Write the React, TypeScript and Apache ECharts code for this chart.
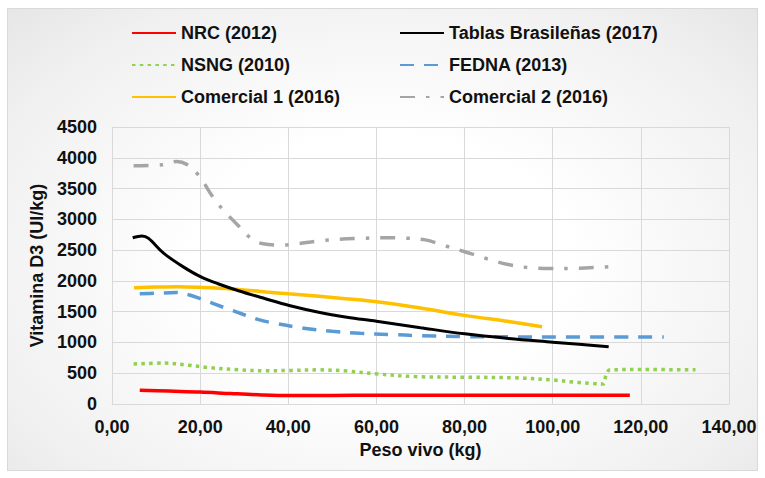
import React, { useEffect, useRef } from "react";
import * as echarts from "echarts";

const seriesNames = [
  "NRC (2012)",
  "Tablas Brasileñas (2017)",
  "NSNG (2010)",
  "FEDNA (2013)",
  "Comercial 1 (2016)",
  "Comercial 2 (2016)",
];

const nrc: number[][] = [
  [6.3, 225], [13, 210], [20, 195], [27, 170], [34, 148], [40, 138], [50, 140],
  [60, 142], [80, 142], [100, 142], [117.5, 142],
];

const tablasBrasilenas: number[][] = [
  [4.7, 2700], [6.8, 2730], [8.3, 2690], [11.7, 2450], [15.9, 2240], [20.3, 2060],
  [24.2, 1950], [28.7, 1840], [34.8, 1710], [40.2, 1600], [46.9, 1490], [53.3, 1410],
  [60, 1345], [70, 1240], [80, 1140], [90, 1065], [100, 1005], [106, 970], [112.7, 930],
];

const nsng: number[][] = [
  [4.9, 650], [12, 665], [17.4, 630], [21.4, 595], [28.7, 555], [34.8, 540],
  [40.2, 545], [46.9, 555], [53.3, 535], [60, 490], [68.8, 445], [80, 435],
  [91.5, 425], [100, 390], [105, 355], [111.4, 325], [112.1, 470], [113, 555],
  [120, 560], [132.4, 555],
];

const fedna: number[][] = [
  [6.3, 1790], [10, 1800], [14.7, 1810], [17.4, 1775], [20.4, 1700], [25.7, 1560],
  [33.3, 1370], [36.3, 1320], [43.5, 1230], [50, 1180], [56.3, 1150], [63, 1130],
  [70, 1110], [80, 1095], [100, 1090], [125.2, 1090],
];

const comercial1: number[][] = [
  [5, 1890], [10, 1900], [15, 1905], [20, 1895], [27, 1870], [35, 1820], [40, 1790],
  [47, 1750], [53, 1710], [60, 1660], [70, 1560], [80, 1440], [90, 1340], [97.6, 1256],
];

const comercial2: number[][] = [
  [4.9, 3870], [11.3, 3885], [14.7, 3940], [17, 3890], [19.7, 3710], [23.1, 3340],
  [25.4, 3140], [28.4, 2917], [32.1, 2660], [35.5, 2590], [38.6, 2580], [41.8, 2600],
  [46.9, 2650], [51.6, 2675], [56.3, 2690], [61.3, 2700], [66.2, 2695], [71.1, 2666],
  [75.6, 2570], [80.2, 2470], [85.1, 2360], [89.6, 2270], [94.5, 2215], [99.5, 2200],
  [105, 2205], [110, 2220], [115.1, 2240],
];

const xAxisTitle = "Peso vivo (kg)";
const yAxisTitle = "Vitamina D3 (UI/kg)";

const FONT = "'Liberation Sans', Arial, sans-serif";
const TEXT_COLOR = "#111111";

export default function App() {
  const ref = useRef<HTMLDivElement>(null);

  useEffect(() => {
    if (!ref.current) return;
    const chart = echarts.init(ref.current, null, { renderer: "svg" });

    const legendPos = [
      { name: seriesNames[0], left: 131, row: 0 },
      { name: seriesNames[1], left: 399, row: 0 },
      { name: seriesNames[2], left: 131, row: 1 },
      { name: seriesNames[3], left: 399, row: 1 },
      { name: seriesNames[4], left: 131, row: 2 },
      { name: seriesNames[5], left: 399, row: 2 },
    ];
    const rowCenters = [33, 65, 97];

    const legends = legendPos.map((l) => ({
      show: true,
      data: [l.name],
      left: l.left,
      top: rowCenters[l.row] - 9,
      padding: 0,
      itemWidth: 44,
      itemHeight: 18,
      itemGap: 0,
      selectedMode: false,
      itemStyle: { color: "rgba(0,0,0,0)", borderWidth: 0, opacity: 0 },
      textStyle: {
        fontFamily: FONT,
        fontSize: 18,
        fontWeight: "bold",
        color: TEXT_COLOR,
        lineHeight: 18,
      },
    }));

    const mk = (name: string, data: number[][], color: string, width: number, type: any, z: number) => ({
      name,
      type: "line",
      data,
      smooth: 0.35,
      symbol: "none",
      showSymbol: false,
      z,
      lineStyle: { color, width, type, cap: "butt" },
      itemStyle: { color },
    });

    chart.setOption({
      animation: false,
      backgroundColor: "transparent",
      textStyle: { fontFamily: FONT },
      legend: legends,
      grid: { left: 112, right: 36, top: 127, bottom: 74, containLabel: false },
      xAxis: {
        type: "value",
        min: 0,
        max: 140,
        interval: 20,
        name: xAxisTitle,
        nameLocation: "middle",
        nameGap: 36,
        nameTextStyle: { fontFamily: FONT, fontSize: 18, fontWeight: "bold", color: TEXT_COLOR },
        axisLine: { show: true, lineStyle: { color: "#D9D9D9", width: 1 } },
        axisTick: { show: false },
        splitLine: { show: true, lineStyle: { color: "#D9D9D9", width: 1 } },
        axisLabel: {
          margin: 14,
          fontFamily: FONT,
          fontSize: 18,
          fontWeight: "bold",
          color: TEXT_COLOR,
          formatter: (v: number) => v.toFixed(2).replace(".", ","),
        },
      },
      yAxis: {
        type: "value",
        min: 0,
        max: 4500,
        interval: 500,
        name: yAxisTitle,
        nameLocation: "middle",
        nameGap: 57,
        nameRotate: 90,
        nameTextStyle: { fontFamily: FONT, fontSize: 18, fontWeight: "bold", color: TEXT_COLOR },
        axisLine: { show: true, lineStyle: { color: "#D9D9D9", width: 1 } },
        axisTick: { show: false },
        splitLine: { show: true, lineStyle: { color: "#D9D9D9", width: 1 } },
        axisLabel: {
          margin: 15,
          fontFamily: FONT,
          fontSize: 18,
          fontWeight: "bold",
          color: TEXT_COLOR,
          formatter: (v: number) => String(v),
        },
      },
      series: [
        mk(seriesNames[0], nrc, "#FF0000", 3.5, "solid", 2),
        mk(seriesNames[1], tablasBrasilenas, "#000000", 3, "solid", 3),
        mk(seriesNames[2], nsng, "#92D050", 3.5, [3.5, 4.3], 2),
        mk(seriesNames[3], fedna, "#5B9BD5", 3.5, [14, 10], 2),
        mk(seriesNames[4], comercial1, "#FFC000", 3.5, "solid", 2),
        mk(seriesNames[5], comercial2, "#A5A5A5", 3.5, [15, 11, 3.5, 11], 2),
      ],
    });

    return () => chart.dispose();
  }, []);

  return (
    <div style={{ position: "fixed", left: 0, top: 0, width: 765, height: 478, background: "#ffffff" }}>
      <div
        style={{
          position: "absolute",
          left: 7,
          top: 8,
          width: 749,
          height: 461,
          border: "1px solid #d9d9d9",
          background: "radial-gradient(ellipse at 50% 55%, #ffffff 35%, #f0f0f0 80%, #e6e6e6 100%)",
        }}
      />
      <div ref={ref} style={{ position: "absolute", left: 0, top: 0, width: 765, height: 478 }} />
    </div>
  );
}
